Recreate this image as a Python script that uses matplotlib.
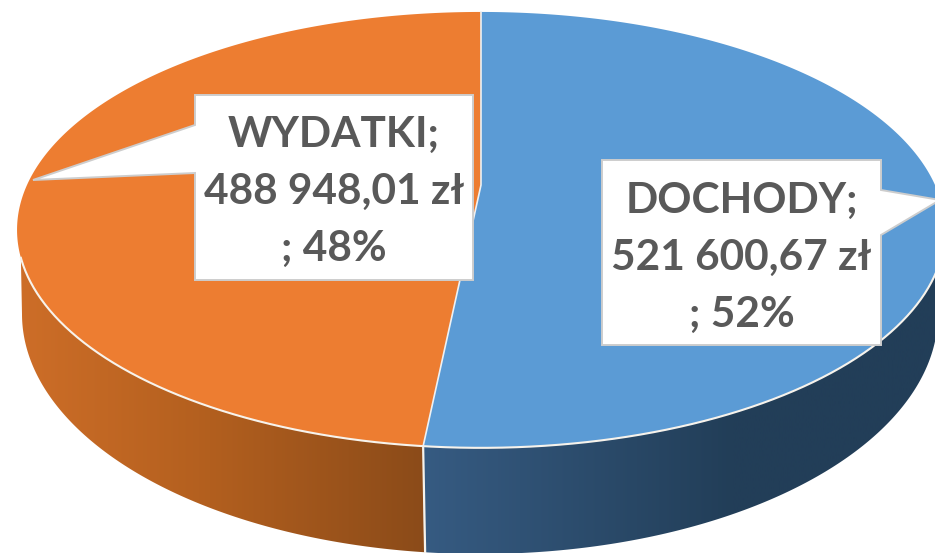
import numpy as np
import matplotlib
matplotlib.use("Agg")
import matplotlib.pyplot as plt
from matplotlib.patches import Polygon
from matplotlib.colors import LinearSegmentedColormap

categories = ["DOCHODY", "WYDATKI"]
values = [521600.67, 488948.01]
value_labels = ["521 600,67 zł", "488 948,01 zł"]
pct_labels = ["52%", "48%"]
top_colors = ["#5B9BD5", "#ED7D31"]

W, H = 935, 553
fig = plt.figure(figsize=(W / 100, H / 100), dpi=100)
ax = fig.add_axes([0, 0, 1, 1])
ax.axis("off")

# top face: a circle seen in perspective
AX, AY, A, B, K = 481, 185, 208.7, 454, 0.206
# lower rim of the wall
BX, BY, BRX, BRY = 480, 314, 458, 240
SIL = 109  # rim angle where the wall starts to be visible


def rim(a0, a1, n=300):
    t = np.radians(np.linspace(a0, a1, n))
    u, v = np.sin(t), np.cos(t)
    w = 1 + K * v
    return np.column_stack([AX + B * u / w, AY - A * v / w])


def low(a0, a1, n=300):
    t = np.radians(np.linspace(a0, a1, n))
    return np.column_stack([BX + BRX * np.sin(t), BY - BRY * np.cos(t)])


shares = np.array(values) / np.sum(values)
edges = np.concatenate([[0], np.cumsum(shares) * 360])
sep = edges[1]
sep_top = rim(sep, sep, 1)[0]
sep_low = 180 + np.degrees(np.arcsin((BX - sep_top[0] - 1) / BRX))

LW = "#F7F3EC"
walls = [
    (rim(SIL, sep), low(90, sep_low),
     [(0.0, "#365B82"), (0.6, "#223E58"), (1.0, "#223E58")], (sep_top[0], W + 5)),
    (rim(sep, 360 - SIL), low(sep_low, 270),
     [(0.0, "#CE6E28"), (0.45, "#B4601F"), (1.0, "#8B4B19")], (15, sep_top[0] + 1)),
]
for top, bot, stops, (x0, x1) in walls:
    poly = Polygon(np.vstack([top, bot[::-1]]), closed=True, fc="none", ec="none")
    ax.add_patch(poly)
    cmap = LinearSegmentedColormap.from_list("wall", stops)
    im = ax.imshow(np.linspace(0, 1, 256).reshape(1, -1), cmap=cmap,
                   extent=(x0, x1, H + 10, 0), aspect="auto", zorder=1)
    im.set_clip_path(poly)

ax.set_xlim(0, W)
ax.set_ylim(H, 0)

# top faces
for i in range(2):
    pts = np.vstack([[(AX, AY)], rim(edges[i], edges[i + 1])])
    ax.add_patch(Polygon(pts, closed=True, fc=top_colors[i], ec="none", zorder=3))

# thin light edges
front = rim(SIL, 360 - SIL)
ax.plot(front[:, 0], front[:, 1], color=LW, lw=1.5, zorder=4)
ax.plot([sep_top[0], sep_top[0] + 2], [sep_top[1], H], color=LW, lw=1.6, zorder=2)
ax.plot([AX, AX, sep_top[0]], [12, AY, sep_top[1]], color="#EEF1F3", lw=1.2, zorder=4)

# callouts
boxes = [
    [(602, 160), (881, 160), (881, 190), (940, 200), (881, 235), (881, 345), (602, 345)],
    [(195, 95), (473, 95), (473, 280), (195, 280), (195, 173), (33, 180), (195, 125)],
]
centers = [(741.5, 258), (334, 192)]
for i in range(2):
    ax.add_patch(Polygon(boxes[i], closed=True, fc="white", ec="#CDCDCD", lw=1.4, zorder=5))
    label = f"{categories[i]};\n{value_labels[i]}\n; {pct_labels[i]}"
    ax.text(*centers[i], label, ha="center", va="center", fontsize=30.5,
            fontweight="bold", family="Lato", color="#595959", linespacing=1.62, zorder=6)

fig.savefig("out.png", dpi=100)
